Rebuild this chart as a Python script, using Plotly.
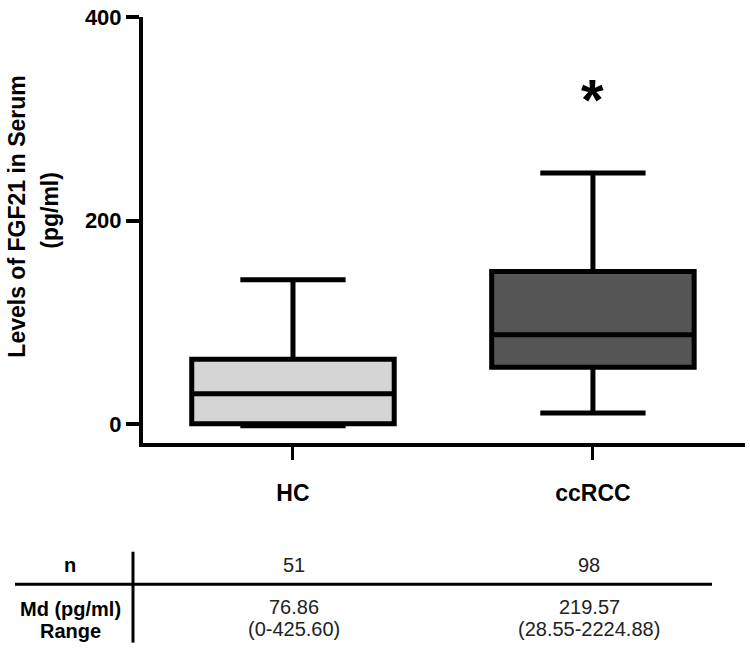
import plotly.graph_objects as go

# box statistics (pg/ml)
groups = ['HC', 'ccRCC']
lower_whisker = [-1.5, 11]
q1_values = [0.5, 56]
median_values = [30, 88]
q3_values = [64, 150]
upper_whisker = [142, 247]
box_colors = ['#d5d5d5', '#555555']

y_ticks = [0, 200, 400]

# table under the chart
n_values = ['51', '98']
md_values = ['76.86', '219.57']
range_values = ['(0-425.60)', '(28.55-2224.88)']

FONT = 'Liberation Sans, Arial, sans-serif'
W, H = 750, 652
L, R, T, B = 143, 5, 12, 209


def px_x(px):
    return (px - L) / (W - L - R)


def px_y(py):
    return (H - B - py) / (H - T - B)


fig = go.Figure()

for i, g in enumerate(groups):
    fig.add_trace(go.Box(
        x=[i], q1=[q1_values[i]], median=[median_values[i]], q3=[q3_values[i]],
        lowerfence=[lower_whisker[i]], upperfence=[upper_whisker[i]],
        width=0.675, whiskerwidth=0.52,
        fillcolor=box_colors[i], line=dict(color='black', width=5),
        boxpoints=False, showlegend=False, name=g
    ))

fig.update_xaxes(
    range=[-0.5, 1.507], tickvals=[0, 1], ticktext=groups,
    showline=True, linecolor='black', linewidth=3.5,
    ticks='outside', ticklen=13, tickwidth=3, tickcolor='black',
    tickfont=dict(family=FONT, size=23, color='black', weight='bold'),
    ticklabelstandoff=14, showgrid=False, zeroline=False
)
fig.update_yaxes(
    range=[-18.4, 400.2], tickvals=y_ticks, ticklabeloverflow='allow',
    showline=True, linecolor='black', linewidth=4,
    ticks='outside', ticklen=13, tickwidth=4, tickcolor='black',
    tickfont=dict(family=FONT, size=22, color='black', weight='bold'),
    showgrid=False, zeroline=False
)

annotations = [
    # y axis title, two lines
    dict(text='Levels of FGF21 in Serum', x=px_x(17), y=px_y(214), textangle=-90),
    dict(text='(pg/ml)', x=px_x(50), y=px_y(207), textangle=-90),
    # table row labels
    dict(text='n', x=px_x(70), y=px_y(566)),
    dict(text='Md (pg/ml)', x=px_x(70), y=px_y(611)),
    dict(text='Range', x=px_x(70), y=px_y(633)),
]
for a in annotations:
    a.update(xref='paper', yref='paper', showarrow=False, xanchor='center', yanchor='middle',
             font=dict(family=FONT, size=23 if 'textangle' in a else 20, color='black', weight='bold'))

col_px = [294, 589]
for i in range(len(groups)):
    for txt, py in [(n_values[i], 566), (md_values[i], 609), (range_values[i], 631)]:
        annotations.append(dict(
            text=txt, x=px_x(col_px[i]), y=px_y(py), xref='paper', yref='paper',
            showarrow=False, xanchor='center', yanchor='middle',
            font=dict(family=FONT, size=20, color='#222222')
        ))

# significance asterisk above ccRCC
annotations.append(dict(
    text='<b>*</b>', x=1, y=(424 - 92) / 1.03, xref='x', yref='y', showarrow=False,
    xanchor='center', yanchor='middle', yshift=-3,
    font=dict(family=FONT, size=58, color='black')
))

shapes = [
    dict(type='line', xref='paper', yref='paper', x0=px_x(15), x1=px_x(712),
         y0=px_y(586), y1=px_y(586), line=dict(color='black', width=3)),
    dict(type='line', xref='paper', yref='paper', x0=px_x(133), x1=px_x(133),
         y0=px_y(553), y1=px_y(645), line=dict(color='black', width=3)),
]

fig.update_layout(
    width=W, height=H,
    margin=dict(l=L, r=R, t=T, b=B),
    plot_bgcolor='white', paper_bgcolor='white',
    annotations=annotations, shapes=shapes
)

# drop the page's default body margin so the figure sits at (0, 0)
fig.write_html('out.html', config={'displayModeBar': False},
               post_script="document.body.style.margin='0';")
